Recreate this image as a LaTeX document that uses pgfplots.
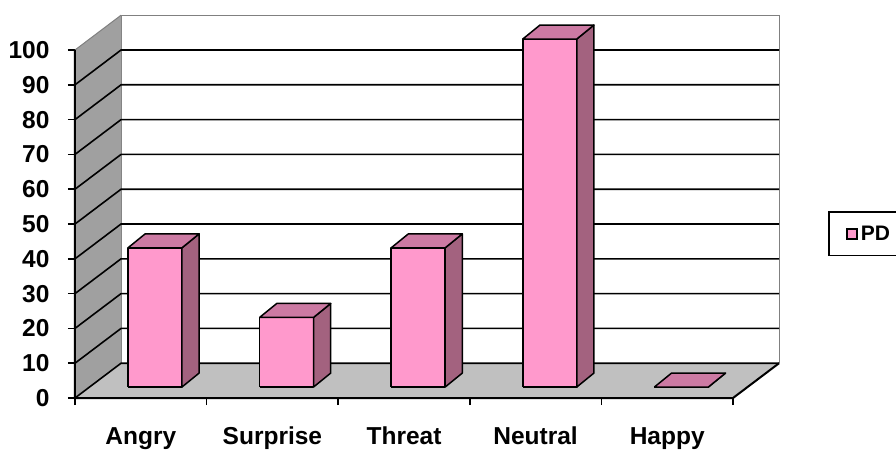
\documentclass[border=0pt]{standalone}
\usepackage{pgfplots}
\pgfplotsset{compat=1.18}
\usepackage{pgfplotstable}
\usepackage{fontspec}
\setmainfont{Liberation Sans}
\definecolor{pinkfront}{HTML}{FF99CC}
\definecolor{pinktop}{HTML}{CC7AA3}
\definecolor{pinkside}{HTML}{A3627F}
\definecolor{wallgray}{HTML}{A0A0A0}
\definecolor{floorgray}{HTML}{C0C0C0}
\definecolor{edgegray}{HTML}{808080}

\pgfplotstableread{
idx val
0 40
1 20
2 40
3 100
4 0
}\datatable

\begin{document}
\begin{tikzpicture}
\useasboundingbox (0pt,0pt) rectangle (896pt,450pt);
\clip (0pt,0pt) rectangle (896pt,450pt);
\begin{axis}[
  at={(75pt,52pt)}, anchor=south west,
  scale only axis, width=704.06pt, height=382.8pt,
  xmin=-0.5, xmax=4.85, ymin=0, ymax=110,
  clip=false,
  axis x line*=bottom, axis y line*=left,
  axis line style={draw=none},
  ytick={0,10,...,100},
  xtick={-0.5,0.5,1.5,2.5,3.5,4.5},
  xticklabels={},
  extra x ticks={0,1,2,3,4},
  extra x tick labels={Angry,Surprise,Threat,Neutral,Happy},
  extra x tick style={major tick length=0pt, tick label style={anchor=base, yshift=-46.5pt}},
  tick style={black, line width=1.6pt},
  major tick length=7pt,
  tick align=outside,
  /pgf/number format/assume math mode=true,
  every tick label/.append style={font=\fontsize{24.5}{24.5}\selectfont\bfseries},
  yticklabel style={xshift=-15pt},
  legend style={at={(1.0695,0.4885)}, anchor=north west, draw=black, line width=1.5pt,
    inner xsep=17pt, inner ysep=10pt,
    nodes={inner xsep=3pt, inner ysep=4pt}},
  legend cell align=left,
]
% back wall
\fill[white] (axis cs:-0.15,10) rectangle (axis cs:4.85,110);
\draw[edgegray, line width=1pt] (axis cs:-0.15,10) -- (axis cs:-0.15,110) -- (axis cs:4.85,110) -- (axis cs:4.85,10);
% left wall
\fill[wallgray] (axis cs:-0.5,0) -- (axis cs:-0.5,100) -- (axis cs:-0.15,110) -- (axis cs:-0.15,10) -- cycle;
\draw[edgegray, line width=1pt] (axis cs:-0.5,100) -- (axis cs:-0.15,110);
% floor
\fill[floorgray] (axis cs:-0.5,0) -- (axis cs:4.5,0) -- (axis cs:4.85,10) -- (axis cs:-0.15,10) -- cycle;
% gridlines
\pgfplotsinvokeforeach{0,10,20,30,40,50,60,70,80,90}{
  \draw[black, line width=1.6pt] (axis cs:-0.5,#1) -- (axis cs:-0.15,#1+10) -- (axis cs:4.85,#1+10);
}
% axis lines
\draw[black, line width=2pt] (axis cs:-0.5,100) -- (axis cs:-0.5,0) -- (axis cs:4.5,0) -- (axis cs:4.85,10);
% bars
\pgfplotsforeachungrouped \i in {0,...,4}{
  \pgfplotstablegetelem{\i}{val}\of\datatable
  \let\v\pgfplotsretval
  \pgfmathsetmacro\xa{\i-0.097}
  \pgfmathsetmacro\xb{\i+0.313}
  \pgfmathsetmacro\xc{\i+0.443}
  \pgfmathsetmacro\xd{\i+0.033}
  \pgfmathsetmacro\yt{3.16+\v}
  \pgfmathsetmacro\ytb{7.16+\v}
  \edef\temp{%
    \noexpand\addplot[fill=pinkfront, draw=black, line width=1.5pt, line join=round, forget plot]
      coordinates {(\xa,3.16) (\xb,3.16) (\xb,\yt) (\xa,\yt) (\xa,3.16)};
    \noexpand\addplot[fill=pinkside, draw=black, line width=1.5pt, line join=round, forget plot]
      coordinates {(\xb,3.16) (\xc,7.16) (\xc,\ytb) (\xb,\yt) (\xb,3.16)};
    \noexpand\addplot[fill=pinktop, draw=black, line width=1.5pt, line join=round, forget plot]
      coordinates {(\xa,\yt) (\xb,\yt) (\xc,\ytb) (\xd,\ytb) (\xa,\yt)};
  }%
  \temp
}
\addlegendimage{legend image code/.code={\draw[fill=pinkfront, draw=black, line width=2.2pt] (0pt,-5pt) rectangle (10pt,5pt);}}
\addlegendentry{\fontsize{21}{21}\selectfont\bfseries PD\hspace*{12pt}}
\end{axis}
\end{tikzpicture}
\end{document}
